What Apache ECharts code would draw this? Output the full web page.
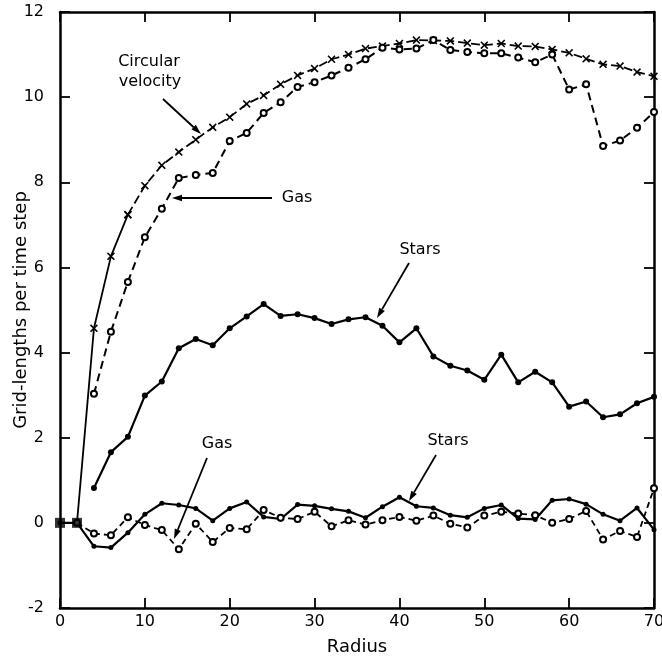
<!DOCTYPE html>
<html><head><meta charset="utf-8">
<script src="https://cdn.jsdelivr.net/npm/echarts@6/dist/echarts.min.js"></script>
<style>html,body{margin:0;padding:0;background:#fff}#c{width:662px;height:656px}</style>
</head><body><div id="c"></div>
<script>
// Radius values (grid units)
const radius = [0,2,4,6,8,10,12,14,16,18,20,22,24,26,28,30,32,34,36,38,40,42,44,46,48,50,52,54,56,58,60,62,64,66,68,70];
// Circular velocity (x markers)
const circularVelocity = [null,0,4.57,6.26,7.24,7.92,8.40,8.71,9.00,9.29,9.53,9.84,10.04,10.30,10.51,10.67,10.89,11.00,11.14,11.20,11.26,11.34,11.33,11.32,11.27,11.22,11.26,11.20,11.19,11.12,11.04,10.90,10.77,10.73,10.59,10.49];
// Gas rotation velocity (open circles, dashed)
const gasRotation = [null,null,3.03,4.49,5.66,6.71,7.38,8.10,8.17,8.22,8.97,9.16,9.63,9.88,10.24,10.35,10.51,10.69,10.89,11.16,11.12,11.14,11.34,11.11,11.06,11.03,11.03,10.93,10.82,11.00,10.18,10.30,8.85,8.98,9.28,9.65];
// Stars rotation velocity (filled dots, solid)
const starsRotation = [null,null,0.82,1.66,2.02,2.99,3.32,4.10,4.32,4.17,4.57,4.85,5.14,4.86,4.90,4.81,4.67,4.78,4.83,4.63,4.24,4.57,3.91,3.69,3.58,3.36,3.95,3.30,3.55,3.30,2.73,2.85,2.48,2.55,2.81,2.96];
// Lower curves (near zero)
const starsLower = [0,0,-0.55,-0.58,-0.23,0.20,0.46,0.42,0.34,0.05,0.34,0.49,0.14,0.09,0.43,0.40,0.33,0.27,0.12,0.38,0.60,0.39,0.35,0.18,0.13,0.34,0.42,0.10,0.08,0.53,0.56,0.44,0.20,0.05,0.35,-0.16];
const gasLower = [null,0,-0.25,-0.29,0.13,-0.05,-0.17,-0.62,-0.02,-0.45,-0.12,-0.15,0.30,0.12,0.09,0.26,-0.08,0.06,-0.04,0.06,0.14,0.05,0.17,-0.02,-0.11,0.17,0.26,0.22,0.18,0.00,0.09,0.28,-0.39,-0.19,-0.33,0.81];
// Axis ticks
const xTicks = {min:0, max:70, step:10};
const yTicks = {min:-2, max:12, step:2};

const pair = (arr, keep) => radius.map((r,i) => (arr[i]==null || (keep && !keep(r))) ? [r,null] : [r,arr[i]]);
const FONT = 'DejaVu Sans';
const crossPath = 'path://M0,1.4L1.4,0L5,3.6L8.6,0L10,1.4L6.4,5L10,8.6L8.6,10L5,6.4L1.4,10L0,8.6L3.6,5Z';

const chart = echarts.init(document.getElementById('c'), null, {renderer:'canvas'});
const axisCommon = {
  axisLine:{show:true, onZero:false, lineStyle:{color:'#000', width:2.5}},
  axisTick:{show:true, inside:true, length:10, lineStyle:{color:'#000', width:1.8}},
  splitLine:{show:false}
};
const arrow = (x1,y1,x2,y2) => {
  const a = Math.atan2(y2-y1, x2-x1), L = 10, W = 3.2;
  const bx = x2 - L*Math.cos(a), by = y2 - L*Math.sin(a);
  const px = -Math.sin(a)*W, py = Math.cos(a)*W;
  return [
    {type:'line', shape:{x1,y1,x2:bx,y2:by}, style:{stroke:'#000', lineWidth:1.8}},
    {type:'polygon', shape:{points:[[x2,y2],[bx+px,by+py],[bx-px,by-py]]}, style:{fill:'#000'}}
  ];
};
const label = (text,x,y) => ({type:'text', x, y, style:{text, font:'16px "'+FONT+'"', fill:'#000', align:'center', verticalAlign:'middle'}});

chart.setOption({
  animation:false,
  backgroundColor:'#fff',
  grid:{left:60, right:8, top:12, bottom:48, containLabel:false, outerBoundsMode:'none'},
  xAxis:[
    Object.assign({type:'value', min:xTicks.min, max:xTicks.max, interval:xTicks.step, position:'bottom',
      name:'Radius', nameLocation:'middle', nameGap:30, nameMoveOverlap:false,
      nameTextStyle:{fontFamily:FONT, fontSize:18, color:'#000'},
      axisLabel:{fontFamily:FONT, fontSize:16, color:'#000', margin:6}}, axisCommon),
    Object.assign({type:'value', min:xTicks.min, max:xTicks.max, interval:xTicks.step, position:'top',
      axisLabel:{show:false}}, axisCommon)
  ],
  yAxis:[
    Object.assign({type:'value', min:yTicks.min, max:yTicks.max, interval:yTicks.step, position:'left',
      name:'Grid-lengths per time step', nameLocation:'middle', nameGap:30, nameMoveOverlap:false,
      nameTextStyle:{fontFamily:FONT, fontSize:18, color:'#000'},
      axisLabel:{fontFamily:FONT, fontSize:16, color:'#000', margin:16}}, axisCommon),
    Object.assign({type:'value', min:yTicks.min, max:yTicks.max, interval:yTicks.step, position:'right',
      axisLabel:{show:false}}, axisCommon)
  ],
  series:[
    {name:'Circular velocity (inner)', type:'line', data:pair(circularVelocity, r=>r<=8),
      symbol:(v)=> v[0]===2 ? 'none' : crossPath, symbolSize:8, showSymbol:true,
      itemStyle:{color:'#000'}, lineStyle:{color:'#000', width:1.8}, connectNulls:false, z:3},
    {name:'Circular velocity', type:'line', data:pair(circularVelocity, r=>r>=8),
      symbol:crossPath, symbolSize:8,
      itemStyle:{color:'#000'}, lineStyle:{color:'#000', width:1.8, type:[9,4]}, z:3},
    {name:'Gas', type:'line', data:pair(gasRotation),
      symbol:'emptyCircle', symbolSize:6,
      itemStyle:{color:'#000', borderColor:'#000', borderWidth:1.5}, lineStyle:{color:'#000', width:2, type:[8,5]}, z:4},
    {name:'Stars', type:'line', data:pair(starsRotation),
      symbol:'circle', symbolSize:6,
      itemStyle:{color:'#000'}, lineStyle:{color:'#000', width:2.2}, z:3},
    {name:'Stars (lower)', type:'line', data:pair(starsLower),
      symbol:'circle', symbolSize:5,
      itemStyle:{color:'#000'}, lineStyle:{color:'#000', width:2.2}, z:3},
    {name:'Gas (lower)', type:'line', data:pair(gasLower),
      symbol:'emptyCircle', symbolSize:6,
      itemStyle:{color:'#000', borderColor:'#000', borderWidth:1.5}, lineStyle:{color:'#000', width:1.8, type:[6,4]}, z:4},
    {name:'Origin', type:'scatter', data:pair(starsLower, r=>r<=2),
      symbol:'rect', symbolSize:10, itemStyle:{color:'#000'}, z:6}
  ],
  graphic:[
    label('Circular',149,62), label('velocity',150,82),
    ...arrow(163,99,201,134),
    label('Gas',297,198),
    ...arrow(272,198,172,198),
    label('Stars',420,250),
    ...arrow(409,263,377,318),
    label('Gas',217,444),
    ...arrow(207,458,174,539),
    label('Stars',448,441),
    ...arrow(436,455,409,501)
  ]
});
</script></body></html>
